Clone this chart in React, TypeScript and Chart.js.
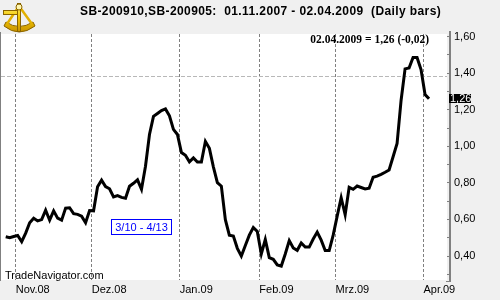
import React, { useEffect, useRef } from 'react';
import { Chart, registerables } from 'chart.js';

Chart.register(...registerables);

// ---------- data ----------
const TITLE = 'SB-200910,SB-200905:  01.11.2007 - 02.04.2009  (Daily bars)';
const LAST_LABEL = '02.04.2009 = 1,26 (-0,02)';
const LAST_VALUE_TEXT = '1,26';
const WATERMARK = 'TradeNavigator.com';
const SEASON_LABEL = '3/10 - 4/13';

// daily closes (spread SB-200910 / SB-200905), one per trading day, 29.10.2008 .. 02.04.2009
const prices: number[] = [
  0.505, 0.500, 0.507, 0.512, 0.478, 0.525, 0.582, 0.607, 0.592, 0.599,
  0.651, 0.596, 0.647, 0.607, 0.596, 0.662, 0.664, 0.632, 0.628, 0.618,
  0.582, 0.649, 0.647, 0.779, 0.815, 0.780, 0.768, 0.723, 0.731, 0.721,
  0.716, 0.782, 0.798, 0.817, 0.765, 0.891, 1.065, 1.164, 1.180, 1.196,
  1.205, 1.167, 1.093, 1.065, 0.966, 0.951, 0.915, 0.937, 0.914, 0.914,
  1.027, 0.989, 0.888, 0.801, 0.782, 0.599, 0.514, 0.509, 0.442, 0.400,
  0.458, 0.514, 0.556, 0.534, 0.411, 0.490, 0.391, 0.382, 0.351, 0.345,
  0.411, 0.484, 0.444, 0.431, 0.471, 0.449, 0.449, 0.493, 0.531, 0.487,
  0.430, 0.430, 0.514, 0.618, 0.719, 0.626, 0.776, 0.765, 0.783, 0.775,
  0.767, 0.771, 0.831, 0.837, 0.847, 0.858, 0.871, 0.943, 1.016, 1.251,
  1.424, 1.429, 1.486, 1.486, 1.420, 1.284, 1.260,
];

// month boundaries (in trading-day index) and their labels
const monthTickPositions: number[] = [2.5, 21.54, 43.58, 63.5, 82.6, 104.6];
const monthLabels: string[] = ['Nov.08', 'Dez.08', 'Jan.09', 'Feb.09', 'Mrz.09', 'Apr.09'];

// y ticks (every 0.10), labels every 0.20
const yTickValues: number[] = [0.3, 0.4, 0.5, 0.6, 0.7, 0.8, 0.9, 1.0, 1.1, 1.2, 1.3, 1.4, 1.5, 1.6];
const yLabelValues: number[] = [0.4, 0.6, 0.8, 1.0, 1.2, 1.4, 1.6];

const referenceLevel = 1.385;
const seasonBoxIndex = 33.9;
const seasonBoxValue = 0.561;

// visible ranges
const X_MIN = -1.18;
const X_MAX = 110.5;
const Y_MIN = 0.2687;
const Y_MAX = 1.6148;

const SANS = '"Liberation Sans", Arial, sans-serif';
const SERIF = '"Liberation Serif", "Times New Roman", serif';

function fmt(v: number): string {
  return v.toFixed(2).replace('.', ',');
}

function drawIcon(ctx: CanvasRenderingContext2D) {
  ctx.save();
  const g = ctx.createLinearGradient(0, 3, 0, 35);
  g.addColorStop(0, '#fff48a');
  g.addColorStop(0.45, '#f4c800');
  g.addColorStop(1, '#c08800');
  ctx.strokeStyle = '#8a6400';
  ctx.lineWidth = 1;
  // lower arc (graduated limb)
  ctx.fillStyle = g;
  ctx.beginPath();
  ctx.moveTo(4, 26);
  ctx.quadraticCurveTo(19, 38, 35, 26);
  ctx.lineTo(33, 22);
  ctx.quadraticCurveTo(19, 31, 6, 22);
  ctx.closePath();
  ctx.fill();
  ctx.stroke();
  // frame sides
  ctx.lineWidth = 2.5;
  ctx.strokeStyle = '#e2b000';
  ctx.beginPath();
  ctx.moveTo(19, 6);
  ctx.lineTo(7, 24);
  ctx.moveTo(19, 6);
  ctx.lineTo(32, 24);
  ctx.stroke();
  // index arm
  ctx.fillStyle = g;
  ctx.strokeStyle = '#8a6400';
  ctx.lineWidth = 1;
  ctx.fillRect(17, 3, 4, 29);
  ctx.strokeRect(17.5, 3.5, 3, 28);
  // telescope
  ctx.fillRect(3, 10, 15, 5);
  ctx.strokeRect(3.5, 10.5, 14, 4);
  // pivot
  ctx.beginPath();
  ctx.arc(19, 7, 3, 0, Math.PI * 2);
  ctx.fillStyle = '#fff7b0';
  ctx.fill();
  ctx.stroke();
  ctx.restore();
}

const decorPlugin = {
  id: 'decor',
  beforeDraw(chart: any) {
    const { ctx, chartArea: a, width, height } = chart;
    ctx.save();
    ctx.fillStyle = '#f0f0f0';
    ctx.fillRect(0, 0, width, height);
    ctx.fillStyle = '#ffffff';
    ctx.fillRect(a.left, a.top, a.right - a.left, a.bottom - a.top);
    ctx.restore();
  },
  beforeDatasetsDraw(chart: any) {
    const { ctx, chartArea: a, scales } = chart;
    const y = Math.round(scales.y.getPixelForValue(referenceLevel)) + 0.5;
    ctx.save();
    ctx.strokeStyle = '#b8b8b8';
    ctx.lineWidth = 1;
    ctx.setLineDash([4, 2]);
    ctx.beginPath();
    ctx.moveTo(a.left, y);
    ctx.lineTo(a.right, y);
    ctx.stroke();
    ctx.restore();
  },
  afterDraw(chart: any) {
    const { ctx, chartArea: a, scales } = chart;
    const xs = scales.x;
    const ys = scales.y;
    ctx.save();
    // left border
    ctx.fillStyle = '#808080';
    ctx.fillRect(0, a.top - 2, 1, a.bottom - a.top + 3);
    // right axis line
    ctx.fillRect(449, a.top - 3, 2, a.bottom - a.top + 5);
    ctx.fillRect(446, a.bottom + 1, 5, 1);

    // title
    ctx.fillStyle = '#000';
    ctx.font = 'bold 12px ' + SANS;
    ctx.textAlign = 'left';
    ctx.textBaseline = 'alphabetic';
    const tw = ctx.measureText(TITLE).width;
    (ctx as any).letterSpacing = ((361 - tw) / (TITLE.length - 1)).toFixed(2) + 'px';
    ctx.fillText(TITLE, 80, 15);
    (ctx as any).letterSpacing = '0px';

    drawIcon(ctx);

    // last value annotation
    const lastIdx = prices.length - 1;
    const lx = xs.getPixelForValue(lastIdx);
    ctx.font = 'bold 11.5px ' + SERIF;
    ctx.textAlign = 'right';
    ctx.fillStyle = '#000';
    ctx.fillText(LAST_LABEL, lx, 43);

    // last value box on axis
    const ly = ys.getPixelForValue(prices[lastIdx]);
    ctx.fillStyle = '#000';
    ctx.fillRect(449, Math.round(ly) - 5, 22, 9);
    ctx.fillStyle = '#fff';
    ctx.font = '11px ' + SANS;
    ctx.textAlign = 'left';
    ctx.textBaseline = 'middle';
    ctx.fillText(LAST_VALUE_TEXT, 450, ly);

    // season box
    const sx = xs.getPixelForValue(seasonBoxIndex);
    const sy = ys.getPixelForValue(seasonBoxValue);
    ctx.font = '11px ' + SANS;
    const sw = ctx.measureText(SEASON_LABEL).width;
    const bw = Math.round(sw + 7);
    const bx = Math.round(sx - bw / 2) + 0.5;
    const by = Math.round(sy - 7.5) + 0.5;
    ctx.fillStyle = '#fff';
    ctx.fillRect(bx, by, bw, 15);
    ctx.strokeStyle = '#0000ff';
    ctx.lineWidth = 1;
    ctx.strokeRect(bx, by, bw, 15);
    ctx.fillStyle = '#0000ff';
    ctx.textAlign = 'center';
    ctx.textBaseline = 'middle';
    ctx.fillText(SEASON_LABEL, bx + bw / 2, by + 8);

    // watermark
    ctx.fillStyle = '#000';
    ctx.font = '11px ' + SANS;
    ctx.textAlign = 'left';
    ctx.textBaseline = 'alphabetic';
    ctx.fillText(WATERMARK, 5, 279);
    ctx.restore();
  },
};

export default function App() {
  const ref = useRef<HTMLCanvasElement | null>(null);
  useEffect(() => {
    if (!ref.current) return;
    const chart = new Chart(ref.current, {
      type: 'line',
      data: {
        datasets: [
          {
            data: prices.map((v, i) => ({ x: i, y: v })),
            borderColor: '#000',
            borderWidth: 3,
            pointRadius: 0,
            tension: 0,
            fill: false,
            borderJoinStyle: 'miter',
          },
        ],
      },
      options: {
        animation: false,
        responsive: false,
        devicePixelRatio: 1,
        layout: { padding: { top: 34, left: 1, right: 0, bottom: 0 } },
        plugins: { legend: { display: false }, tooltip: { enabled: false }, title: { display: false } },
        scales: {
          x: {
            type: 'linear',
            min: X_MIN,
            max: X_MAX,
            afterBuildTicks: (s: any) => {
              s.ticks = monthTickPositions.map((v) => ({ value: v }));
            },
            afterFit: (s: any) => {
              s.height = 20;
            },
            ticks: {
              autoSkip: false,
              maxRotation: 0,
              align: 'start',
              padding: 3,
              color: '#000',
              font: { family: SANS, size: 11 },
              callback: (_v: any, i: number) => monthLabels[i],
            },
            grid: { color: '#808080', drawTicks: false, lineWidth: 1 },
            border: { display: false, dash: [3, 2] },
          },
          y: {
            type: 'linear',
            position: 'right',
            min: Y_MIN,
            max: Y_MAX,
            afterBuildTicks: (s: any) => {
              s.ticks = yTickValues.map((v) => ({ value: v }));
            },
            afterFit: (s: any) => {
              s.width = 53;
            },
            ticks: {
              autoSkip: false,
              padding: 4,
              color: '#000',
              font: { family: SANS, size: 11 },
              callback: (v: any) =>
                yLabelValues.some((l) => Math.abs(l - Number(v)) < 1e-6) ? fmt(Number(v)) : '',
            },
            grid: { drawOnChartArea: false, drawTicks: true, tickLength: 3, color: '#808080' },
            border: { display: false },
          },
        },
      } as any,
      plugins: [decorPlugin],
    });
    return () => chart.destroy();
  }, []);
  return (
    <div style={{ position: 'fixed', left: 0, top: 0, width: 500, height: 300 }}>
      <canvas ref={ref} width={500} height={300} style={{ display: 'block', width: 500, height: 300 }} />
    </div>
  );
}
